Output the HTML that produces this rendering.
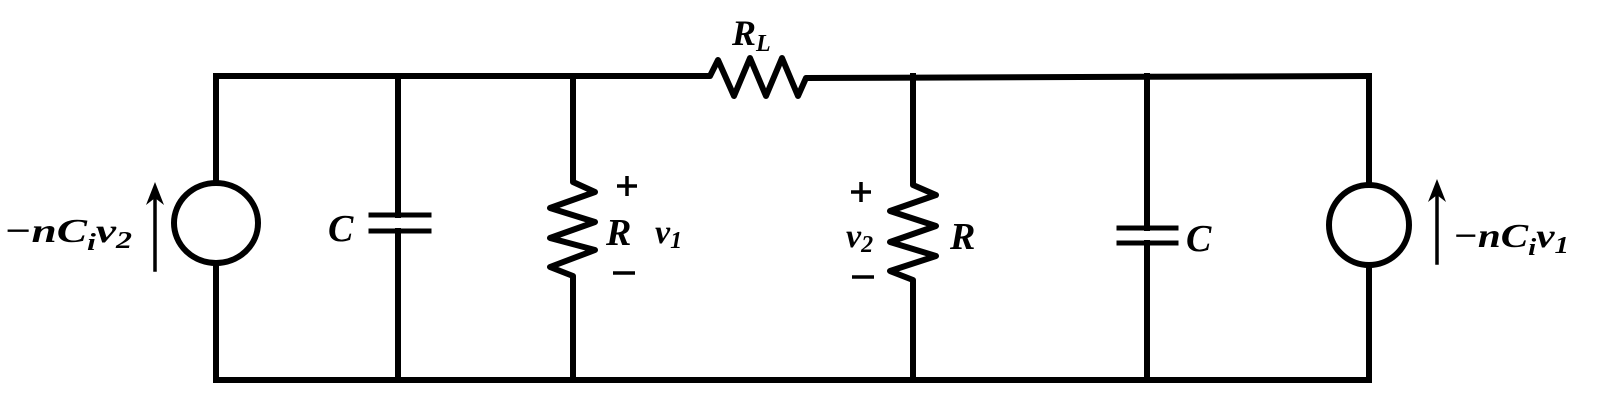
<!DOCTYPE html>
<html><head><meta charset="utf-8"><style>
html,body{margin:0;padding:0;background:#fff;}
svg{display:block;}
text{font-family:"Liberation Serif",serif;font-weight:bold;font-style:italic;fill:#000;}
</style></head><body>
<svg width="1621" height="407" viewBox="0 0 1621 407" xmlns="http://www.w3.org/2000/svg">
<g fill="none" stroke="#000" stroke-width="6" stroke-linejoin="round" stroke-linecap="square">
<path d="M216 76 L710 76 L718 60 L734 96 L750 58 L766 96 L782 58 L798 96 L806 78 L1369 76"/>
<path d="M216 380 L1369 380"/>
<path d="M216 76 L216 183 M216 263 L216 380"/>
<ellipse cx="216" cy="223" rx="42" ry="40"/>
<path d="M398 76 L398 215 M398 231 L398 380"/>
<path d="M371 215 L429 215 M371 231 L429 231" stroke-width="5"/>
<path d="M573 76 L573 182 L595 192 L550 208 L595 222 L550 238 L595 250 L550 267 L573 276 L573 380"/>
<path d="M913 76 L913 185 L936 195 L890 211 L936 226 L890 242 L936 256 L890 271 L913 280 L913 380"/>
<path d="M1147 76 L1147 228 M1147 243 L1147 380"/>
<path d="M1119 228 L1176 228 M1119 243 L1176 243" stroke-width="5"/>
<path d="M1369 76 L1369 185 M1369 265 L1369 380"/>
<ellipse cx="1369" cy="225" rx="40" ry="40"/>
<path d="M155 270 L155 192" stroke-width="3.5"/>
<path d="M1437 263 L1437 190" stroke-width="3.5"/>
</g>
<polygon points="155,182 146,205 155,198 164,205" fill="#000"/>
<polygon points="1437,179 1428,202 1437,195 1446,202" fill="#000"/>
<g font-size="34">
<text x="4" y="242" textLength="128" lengthAdjust="spacingAndGlyphs">−nC<tspan font-size="24" dy="8">i</tspan><tspan dy="-8">v</tspan><tspan font-size="24" dy="6">2</tspan></text>
<text x="1453" y="247" textLength="116" lengthAdjust="spacingAndGlyphs">−nC<tspan font-size="24" dy="8">i</tspan><tspan dy="-8">v</tspan><tspan font-size="24" dy="6">1</tspan></text>
<text x="328" y="241" font-size="38">C</text>
<text x="1186" y="251" font-size="38">C</text>
<text x="606" y="245" font-size="38">R</text>
<text x="950" y="249" font-size="38">R</text>
<text x="732" y="45" font-size="36">R<tspan font-size="24" dy="6">L</tspan></text>
<text x="655" y="243">v<tspan font-size="24" dy="5">1</tspan></text>
<text x="846" y="247">v<tspan font-size="24" dy="5">2</tspan></text>
</g>
<path d="M627 176 L627 196 M617 186 L637 186 M861 182 L861 202 M851 192 L871 192" stroke="#000" stroke-width="3.5"/>
<path d="M613 273 L635 273 M852 277 L874 277" stroke="#000" stroke-width="3.5"/>
</svg>
</body></html>
